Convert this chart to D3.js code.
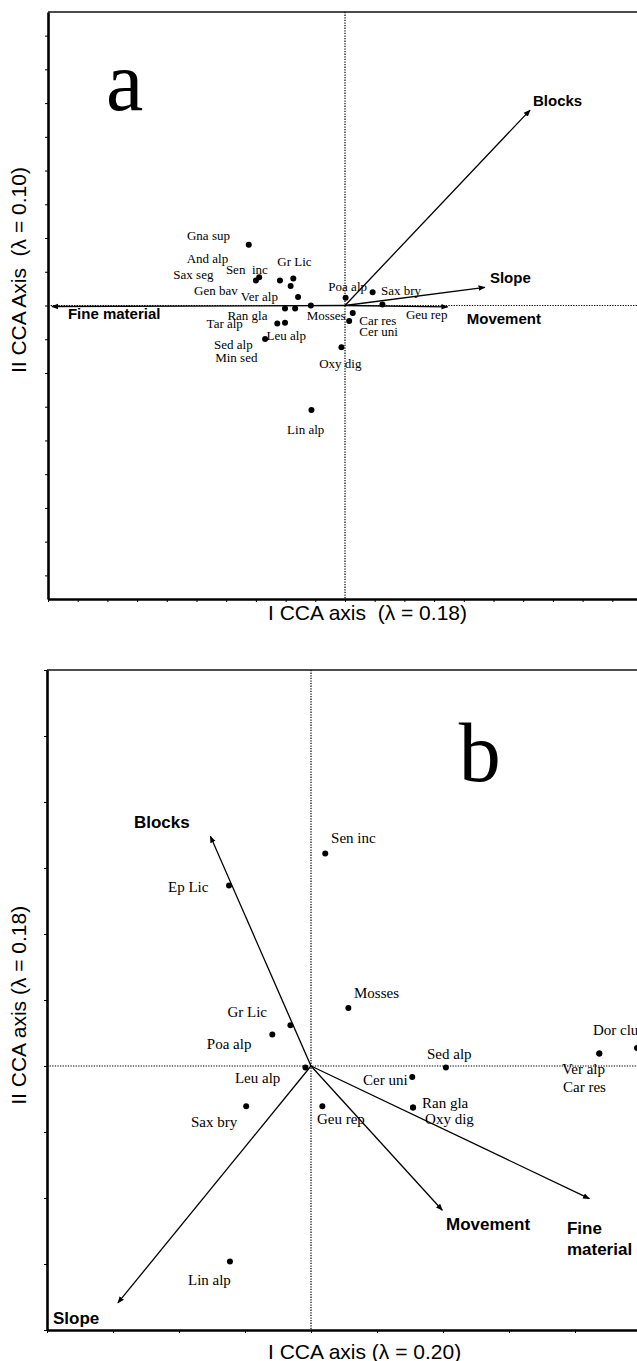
<!DOCTYPE html>
<html>
<head>
<meta charset="utf-8">
<script src="https://cdn.jsdelivr.net/npm/d3@7"></script>
<style>
  body { margin: 0; background: #fff; }
  svg { display: block; }
</style>
</head>
<body>
<svg id="chart" width="637" height="1361"></svg>
<script>
// ---- panel a : species scores [name, x, y, labelX, labelY] (CCA units) ----
const speciesA = [
  ["Gna sup", -0.324, 0.180, -0.532, 0.207],
  ["And alp", -0.289, 0.084, -0.533, 0.138],
  ["Sax seg", -0.300, 0.074, -0.578, 0.091],
  ["Sen  inc", -0.219, 0.074, -0.401, 0.107],
  ["Gr Lic", -0.174, 0.080, -0.228, 0.130],
  ["Gen bav", -0.183, 0.058, -0.508, 0.045],
  ["Ver alp", -0.158, 0.025, -0.351, 0.028],
  ["Ran gla", -0.202, -0.009, -0.396, -0.029],
  ["Tar alp", -0.228, -0.053, -0.466, -0.054],
  ["Leu alp", -0.269, -0.099, -0.264, -0.089],
  ["Sed alp", -0.202, -0.051, -0.441, -0.115],
  ["Min sed", -0.168, -0.009, -0.437, -0.155],
  ["Mosses", -0.115, 0.000, -0.129, -0.029],
  ["Poa alp", 0.002, 0.023, -0.056, 0.055],
  ["Sax bry", 0.093, 0.039, 0.121, 0.045],
  ["Geu rep", 0.126, 0.003, 0.205, -0.027],
  ["Car res", 0.026, -0.022, 0.048, -0.043],
  ["Cer uni", 0.014, -0.046, 0.048, -0.076],
  ["Oxy dig", -0.012, -0.124, -0.087, -0.172],
  ["Lin alp", -0.113, -0.310, -0.195, -0.367]
];
// environmental arrows [name, tipX, tipY, labelX, labelY]
const arrowsA = [
  ["Blocks", 0.623, 0.579, 0.633, 0.609],
  ["Slope", 0.471, 0.054, 0.488, 0.085],
  ["Movement", 0.346, -0.004, 0.410, -0.036],
  ["Fine material", -0.987, -0.003, -0.933, -0.021]
];

// ---- panel b ----
const speciesB = [
  ["Sen inc", 0.108, 1.609, 0.152, 1.725],
  ["Ep Lic", -0.621, 1.367, -1.083, 1.356],
  ["Mosses", 0.283, 0.439, 0.326, 0.556],
  ["Gr Lic", -0.156, 0.308, -0.633, 0.409],
  ["Poa alp", -0.293, 0.238, -0.789, 0.164],
  ["Leu alp", -0.042, -0.012, -0.576, -0.088],
  ["Sed alp", 1.022, -0.012, 0.879, 0.094],
  ["Cer uni", 0.767, -0.083, 0.394, -0.103],
  ["Ran gla", 0.773, -0.315, 0.841, -0.280],
  ["Oxy dig", 0.773, -0.315, 0.864, -0.404],
  ["Sax bry", -0.491, -0.305, -0.909, -0.424],
  ["Geu rep", 0.086, -0.305, 0.045, -0.404],
  ["Ver alp", 2.184, 0.094, 1.902, -0.025],
  ["Car res", 2.184, 0.094, 1.909, -0.159],
  ["Dor clu", 2.470, 0.136, 2.136, 0.276],
  ["Lin alp", -0.614, -1.482, -0.932, -1.623]
];
const arrowsB = [
  ["Blocks", -0.762, 1.740, -1.341, 1.847],
  ["Movement", 0.995, -1.093, 1.023, -1.199],
  ["Fine\nmaterial", 2.109, -1.005, 1.939, -1.229],
  ["Slope", -1.463, -1.795, -1.955, -1.906]
];

// titles, letters and frame of each panel
const panels = [
  {
    letter: "a", species: speciesA, arrows: arrowsA,
    xTitle: "I CCA axis  (\u03bb = 0.18)", yTitle: "II CCA Axis  (\u03bb = 0.10)",
    xDomain: [-1, 1], yDomain: [-0.87, 0.87], tickStep: 0.1,
    letterPos: [-0.805, 0.579], xTitleGap: 13, yTitleAt: 0.105,
    box: { left: 48, right: 642, top: 12, bottom: 599 },
    spFont: 13, envFont: 15
  },
  {
    letter: "b", species: speciesB, arrows: arrowsB,
    xTitle: "I CCA axis (\u03bb = 0.20)", yTitle: "II CCA axis (\u03bb = 0.18)",
    xDomain: [-2, 2.5], yDomain: [-2, 3], tickStep: 0.5,
    letterPos: [1.12, 2.16], xTitleGap: 21, yTitleAt: 0.46,
    box: { left: 47, right: 641, top: 670, bottom: 1330 },
    spFont: 15, envFont: 17
  }
];

const svg = d3.select("#chart");

svg.append("defs").append("marker")
  .attr("id", "head")
  .attr("viewBox", "0 0 10 10")
  .attr("refX", 9).attr("refY", 5)
  .attr("markerWidth", 7).attr("markerHeight", 7)
  .attr("markerUnits", "userSpaceOnUse")
  .attr("orient", "auto")
  .append("path")
  .attr("d", "M0,1 L10,5 L0,9 Z")
  .attr("fill", "#000");

panels.forEach(p => {
  const b = p.box;
  const x = d3.scaleLinear().domain(p.xDomain).range([b.left, b.right]);
  const y = d3.scaleLinear().domain(p.yDomain).range([b.bottom, b.top]);
  const g = svg.append("g");

  const xt = d3.range(p.xDomain[0], p.xDomain[1] + 1e-6, p.tickStep);
  const yt = d3.range(p.yDomain[0] - (p.yDomain[0] % p.tickStep), p.yDomain[1] + 1e-6, p.tickStep);

  // zero lines (dotted)
  g.append("line")
    .attr("x1", x(0)).attr("x2", x(0)).attr("y1", b.top).attr("y2", b.bottom)
    .attr("stroke", "#000").attr("stroke-width", 1.2).attr("stroke-dasharray", "1.3,1.3");
  g.append("line")
    .attr("x1", b.left).attr("x2", b.right).attr("y1", y(0)).attr("y2", y(0))
    .attr("stroke", "#000").attr("stroke-width", 1.2).attr("stroke-dasharray", "1.3,1.3");

  // frame: top line + bottom/left axes
  g.append("line")
    .attr("x1", b.left).attr("x2", b.right).attr("y1", b.top).attr("y2", b.top)
    .attr("stroke", "#111").attr("stroke-width", 1.5);

  const xAxis = g.append("g")
    .attr("transform", `translate(0,${b.bottom})`)
    .call(d3.axisBottom(x).tickValues(xt).tickSize(3).tickSizeOuter(0).tickFormat(""));
  const yAxis = g.append("g")
    .attr("transform", `translate(${b.left},0)`)
    .call(d3.axisLeft(y).tickValues(yt).tickSize(3).tickSizeOuter(0).tickFormat(""));
  [xAxis, yAxis].forEach(ax => {
    ax.select(".domain").attr("stroke", "#000").attr("stroke-width", 2.6);
    ax.selectAll(".tick line").attr("stroke", "#000").attr("stroke-width", 1);
  });

  // axis titles
  g.append("text")
    .attr("x", 268).attr("y", b.bottom + p.xTitleGap)
    .attr("dominant-baseline", "central")
    .attr("font-family", "Liberation Sans, Arial, sans-serif").attr("font-size", 21)
    .style("white-space", "pre")
    .text(p.xTitle);
  g.append("text")
    .attr("transform", `translate(18,${y(p.yTitleAt)}) rotate(-90)`)
    .attr("text-anchor", "middle").attr("dominant-baseline", "central")
    .attr("font-family", "Liberation Sans, Arial, sans-serif").attr("font-size", 21)
    .style("white-space", "pre")
    .text(p.yTitle);

  // panel letter
  g.append("text")
    .attr("x", x(p.letterPos[0])).attr("y", y(p.letterPos[1]))
    .attr("font-family", "Liberation Serif, Times New Roman, serif").attr("font-size", 84)
    .text(p.letter);

  // environmental arrows
  g.selectAll(".env")
    .data(p.arrows)
    .join("line")
    .attr("x1", x(0)).attr("y1", y(0))
    .attr("x2", d => x(d[1])).attr("y2", d => y(d[2]))
    .attr("stroke", "#000").attr("stroke-width", 1.3)
    .attr("marker-end", "url(#head)");

  g.selectAll(".envlab")
    .data(p.arrows)
    .join("text")
    .attr("x", d => x(d[3])).attr("y", d => y(d[4]))
    .attr("dominant-baseline", "central")
    .attr("font-family", "Liberation Sans, Arial, sans-serif")
    .attr("font-weight", "bold").attr("font-size", p.envFont)
    .each(function(d) {
      const t = d3.select(this);
      d[0].split("\n").forEach((part, i) => {
        t.append("tspan").attr("x", x(d[3])).attr("dy", i ? "1.2em" : 0).text(part);
      });
    });

  // species points
  g.selectAll(".sp")
    .data(p.species)
    .join("circle")
    .attr("cx", d => x(d[1])).attr("cy", d => y(d[2]))
    .attr("r", 3).attr("fill", "#000");

  g.selectAll(".splab")
    .data(p.species)
    .join("text")
    .attr("x", d => x(d[3])).attr("y", d => y(d[4]))
    .attr("dominant-baseline", "central")
    .attr("font-family", "Liberation Serif, Times New Roman, serif")
    .attr("font-size", p.spFont)
    .style("white-space", "pre")
    .text(d => d[0]);
});
</script>
</body>
</html>
